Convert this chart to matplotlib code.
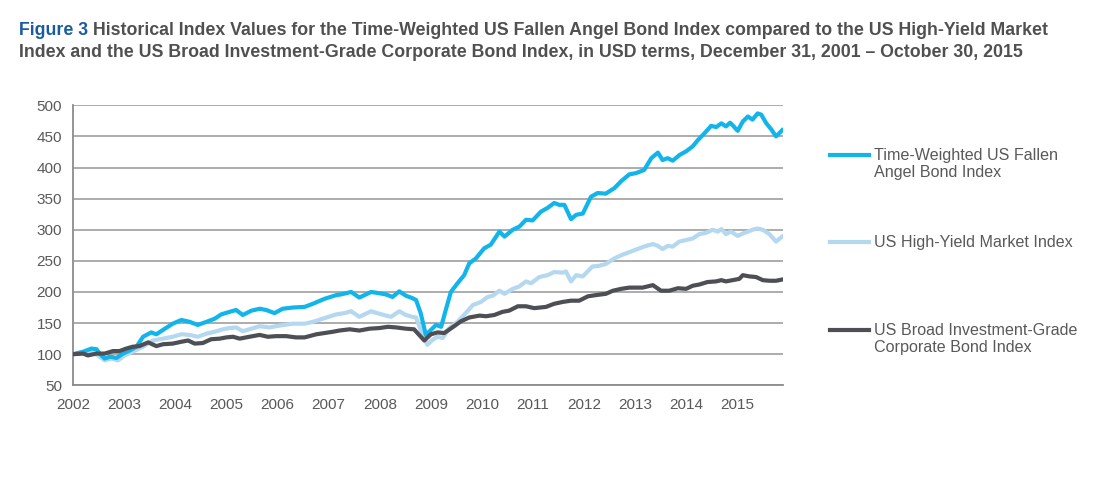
import numpy as np
import matplotlib
matplotlib.use("Agg")
import matplotlib.pyplot as plt
from matplotlib.legend_handler import HandlerLine2D

plt.rcParams['font.family'] = ['Liberation Sans', 'DejaVu Sans']

# ---------------- data ----------------
fa_years = [2002.00, 2002.20, 2002.36, 2002.46, 2002.52, 2002.62, 2002.72, 2002.85, 2002.98, 2003.11,
            2003.24, 2003.37, 2003.53, 2003.63, 2003.76, 2003.95, 2004.12, 2004.28, 2004.44, 2004.61,
            2004.77, 2004.90, 2005.06, 2005.19, 2005.32, 2005.49, 2005.65, 2005.78, 2005.94, 2006.10,
            2006.30, 2006.53, 2006.69, 2006.92, 2007.15, 2007.24, 2007.44, 2007.60, 2007.83, 2007.99,
            2008.12, 2008.25, 2008.38, 2008.51, 2008.64, 2008.71, 2008.80, 2008.90, 2009.00, 2009.10,
            2009.20, 2009.29, 2009.39, 2009.52, 2009.65, 2009.75, 2009.88, 2010.04, 2010.17, 2010.34,
            2010.44, 2010.60, 2010.73, 2010.86, 2010.99, 2011.15, 2011.28, 2011.41, 2011.51, 2011.61,
            2011.74, 2011.84, 2011.97, 2012.13, 2012.26, 2012.42, 2012.59, 2012.72, 2012.88, 2013.01,
            2013.17, 2013.31, 2013.44, 2013.53, 2013.63, 2013.73, 2013.86, 2013.99, 2014.12, 2014.22,
            2014.35, 2014.48, 2014.58, 2014.68, 2014.77, 2014.85, 2014.90, 2015.00, 2015.10, 2015.20,
            2015.29, 2015.39, 2015.46, 2015.56, 2015.65, 2015.75, 2015.87]
fa_values = [100, 104, 109, 108, 101, 93, 96, 94, 101, 106,
             112, 128, 135, 132, 139, 149, 155, 152, 147, 152,
             157, 164, 168, 171, 163, 170, 173, 171, 166, 173,
             175, 176, 181, 189, 195, 196, 200, 191, 200, 198,
             196, 192, 201, 194, 190, 187, 166, 131, 139, 147,
             144, 171, 200, 214, 227, 246, 254, 270, 276, 297,
             289, 300, 305, 316, 315, 329, 335, 343, 340, 340,
             317, 324, 326, 353, 359, 358, 367, 378, 389, 391,
             396, 415, 424, 412, 415, 411, 420, 426, 434, 444,
             455, 467, 465, 471, 466, 472, 468, 459, 474, 482,
             477, 487, 485, 471, 462, 450, 460]

hy_years = [2002.00, 2002.20, 2002.36, 2002.49, 2002.62, 2002.75, 2002.88, 2003.01, 2003.17, 2003.37,
            2003.56, 2003.76, 2003.95, 2004.12, 2004.28, 2004.44, 2004.61, 2004.77, 2004.93, 2005.06,
            2005.19, 2005.32, 2005.49, 2005.65, 2005.84, 2006.04, 2006.30, 2006.53, 2006.69, 2006.92,
            2007.15, 2007.31, 2007.44, 2007.60, 2007.83, 2007.99, 2008.22, 2008.38, 2008.51, 2008.64,
            2008.71, 2008.80, 2008.93, 2009.03, 2009.13, 2009.23, 2009.36, 2009.52, 2009.68, 2009.82,
            2009.98, 2010.11, 2010.21, 2010.34, 2010.44, 2010.60, 2010.73, 2010.86, 2010.96, 2011.12,
            2011.28, 2011.41, 2011.58, 2011.64, 2011.74, 2011.84, 2011.97, 2012.16, 2012.29, 2012.42,
            2012.59, 2012.72, 2012.88, 2013.04, 2013.17, 2013.34, 2013.44, 2013.53, 2013.63, 2013.73,
            2013.86, 2014.02, 2014.12, 2014.25, 2014.38, 2014.51, 2014.61, 2014.68, 2014.77, 2014.87,
            2015.00, 2015.10, 2015.20, 2015.29, 2015.39, 2015.49, 2015.62, 2015.75, 2015.87]
hy_values = [100, 101, 104, 98, 90, 93, 90, 98, 104, 112,
             122, 125, 128, 132, 131, 128, 133, 136, 140, 142,
             143, 137, 141, 145, 143, 146, 149, 149, 152, 158,
             164, 166, 169, 160, 169, 165, 160, 169, 163, 160,
             159, 139, 115, 123, 128, 126, 142, 152, 166, 179,
             184, 192, 194, 202, 197, 205, 209, 217, 214, 224,
             227, 232, 231, 233, 217, 227, 225, 241, 242, 245,
             254, 259, 264, 269, 273, 277, 274, 269, 274, 273,
             281, 284, 286, 293, 295, 300, 297, 301, 293, 297,
             290, 294, 297, 300, 302, 300, 293, 281, 289]

ig_years = [2002.00, 2002.20, 2002.29, 2002.46, 2002.62, 2002.78, 2002.91, 2003.04, 2003.17, 2003.30,
            2003.47, 2003.63, 2003.76, 2003.95, 2004.12, 2004.25, 2004.38, 2004.54, 2004.70, 2004.87,
            2005.00, 2005.13, 2005.26, 2005.45, 2005.65, 2005.81, 2005.97, 2006.17, 2006.36, 2006.53,
            2006.76, 2006.92, 2007.08, 2007.21, 2007.41, 2007.60, 2007.80, 2007.99, 2008.16, 2008.32,
            2008.51, 2008.67, 2008.87, 2009.00, 2009.13, 2009.26, 2009.42, 2009.59, 2009.75, 2009.95,
            2010.08, 2010.24, 2010.40, 2010.53, 2010.70, 2010.86, 2011.02, 2011.25, 2011.41, 2011.58,
            2011.74, 2011.90, 2012.07, 2012.23, 2012.42, 2012.56, 2012.72, 2012.88, 2013.01, 2013.14,
            2013.24, 2013.34, 2013.50, 2013.66, 2013.83, 2013.99, 2014.12, 2014.25, 2014.41, 2014.58,
            2014.68, 2014.77, 2014.90, 2015.03, 2015.10, 2015.23, 2015.36, 2015.49, 2015.62, 2015.75,
            2015.87]
ig_values = [100, 101, 98, 101, 101, 105, 105, 109, 112, 113,
             119, 113, 116, 117, 120, 122, 117, 118, 124, 125,
             127, 128, 125, 128, 131, 128, 129, 129, 127, 127,
             132, 134, 136, 138, 140, 138, 141, 142, 144, 143,
             141, 140, 122, 132, 135, 134, 143, 153, 159, 162,
             161, 163, 168, 170, 177, 177, 174, 176, 181, 184,
             186, 186, 193, 195, 197, 202, 205, 207, 207, 207,
             209, 211, 202, 202, 206, 205, 210, 212, 216, 217,
             219, 217, 219, 221, 227, 225, 224, 219, 218, 218,
             220]

series_labels = ["Time-Weighted US Fallen\nAngel Bond Index",
                 "US High-Yield Market Index\n",
                 "US Broad Investment-Grade\nCorporate Bond Index"]
x_tick_years = list(range(2002, 2016))
y_ticks = list(range(50, 501, 50))

title_fig = "Figure 3"
title_line1 = "Historical Index Values for the Time-Weighted US Fallen Angel Bond Index compared to the US High-Yield Market"
title_line2 = "Index and the US Broad Investment-Grade Corporate Bond Index, in USD terms, December 31, 2001 \u2013 October 30, 2015"

# ---------------- styling ----------------
C_FA = "#12B5EA"
C_HY = "#B4D8F0"
C_IG = "#4D4F54"
C_GRID = "#A6A6A6"
C_TXT = "#595959"
C_TITLE = "#505050"
C_BLUE = "#1A5C9E"

fig = plt.figure(figsize=(11.12, 4.78), dpi=100)
ax = fig.add_axes([73 / 1112, 1 - 385.3 / 478, (782.7 - 73) / 1112, (385.3 - 105.3) / 478])

ax.plot(fa_years, fa_values, color=C_FA, lw=3.0, solid_joinstyle='round', zorder=3, label=series_labels[0])
ax.plot(hy_years, hy_values, color=C_HY, lw=3.0, solid_joinstyle='round', zorder=2, label=series_labels[1])
ax.plot(ig_years, ig_values, color=C_IG, lw=3.0, solid_joinstyle='round', zorder=4, label=series_labels[2])

ax.set_xlim(2002.0, 2015.88)
ax.set_ylim(50, 500)
ax.set_yticks(y_ticks)
ax.set_xticks(x_tick_years)
ax.set_xticklabels([str(y) for y in x_tick_years])
ax.tick_params(axis='both', length=0, labelsize=11, colors=C_TXT)
ax.tick_params(axis='y', pad=8)
ax.tick_params(axis='x', pad=9.5)

ax.grid(axis='y', color=C_GRID, lw=1.3)
ax.set_axisbelow(True)
for s in ['top', 'right']:
    ax.spines[s].set_visible(False)
ax.spines['left'].set_color("#8C8C8C")
ax.spines['left'].set_linewidth(1.3)
ax.spines['bottom'].set_color("#8C8C8C")
ax.spines['bottom'].set_linewidth(1.3)


class FirstLineHandler(HandlerLine2D):
    def create_artists(self, legend, orig_handle, xdescent, ydescent, width, height, fontsize, trans):
        arts = super().create_artists(legend, orig_handle, xdescent, ydescent, width, height, fontsize, trans)
        for a in arts:
            a.set_ydata(np.asarray(a.get_ydata(), dtype=float) + 0.6 * fontsize)
        return arts


handles = ax.get_lines()
leg = ax.legend(handles, series_labels, loc='upper left', bbox_to_anchor=(830 / 1112, 1 - 148 / 478),
                bbox_transform=fig.transFigure, frameon=False, fontsize=11.6, labelcolor=C_TXT,
                handlelength=2.45, handletextpad=0.25, labelspacing=3.42, borderpad=0, borderaxespad=0,
                handler_map={h: FirstLineHandler() for h in handles})
for h in leg.get_lines():
    h.set_linewidth(3.0)

# ---------------- title ----------------
TS = 12.75
t1 = fig.text(19 / 1112, 1 - 35 / 478, title_fig, color=C_BLUE, fontsize=TS, fontweight='bold',
              va='baseline', ha='left')
ax.annotate(title_line1, xy=(1, 0), xycoords=t1, xytext=(3.8, 0), textcoords='offset points',
            ha='left', va='bottom', color=C_TITLE, fontsize=TS, fontweight='bold',
            annotation_clip=False)
fig.text(19 / 1112, 1 - 57 / 478, title_line2, color=C_TITLE, fontsize=TS, fontweight='bold',
         va='baseline', ha='left')

fig.savefig("out.png", dpi=100)
